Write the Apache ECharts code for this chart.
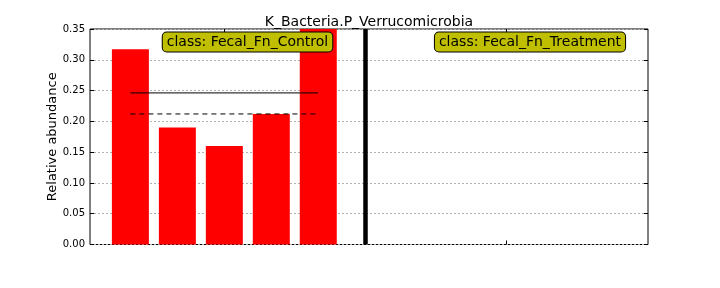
<!DOCTYPE html>
<html><head><meta charset="utf-8">
<script src="https://cdn.jsdelivr.net/npm/echarts@6/dist/echarts.min.js"></script>
<style>html,body{margin:0;padding:0;background:#fff}#c{width:720px;height:288px}</style>
</head><body><div id="c"></div>
<script>
const title = 'K_Bacteria.P_Verrucomicrobia';
const yLabel = 'Relative abundance';
const controlPositions = [0, 1, 2, 3, 4];
const controlValues = [0.317, 0.190, 0.160, 0.212, 0.352];
const separatorX = 5;
const classTickPositions = [2, 8];
const classLabels = ['class: Fecal_Fn_Control', 'class: Fecal_Fn_Treatment'];
const yTicks = [0, 0.05, 0.10, 0.15, 0.20, 0.25, 0.30, 0.35];

const mean = controlValues.reduce((a, b) => a + b, 0) / controlValues.length;
const sorted = controlValues.slice().sort((a, b) => a - b);
const median = sorted[Math.floor(sorted.length / 2)];
const first = controlPositions[0], last = controlPositions[controlPositions.length - 1];

const font = 'DejaVu Sans';
const chart = echarts.init(document.getElementById('c'), null, {renderer: 'canvas'});
const xCommon = {
  type: 'value', min: -0.86, max: 11.02,
  axisLine: {show: false, onZero: false},
  axisTick: {show: true, inside: true, length: 4, lineStyle: {color: '#000'}, customValues: classTickPositions},
  axisLabel: {show: false},
  splitLine: {show: false}
};
const yCommon = {
  type: 'value', min: 0, max: 0.35, interval: 0.05,
  axisLine: {show: false, onZero: false},
  axisTick: {show: true, inside: true, length: 4, lineStyle: {color: '#000'}},
};
chart.setOption({
  animation: false,
  title: {text: title, left: 364, top: 10, textAlign: 'center',
    textStyle: {fontFamily: font, fontSize: 14, fontWeight: 'normal', color: '#000'}},
  grid: {left: 90, right: 72, top: 29, bottom: 43.5, show: true, borderColor: '#000', borderWidth: 1, backgroundColor: 'transparent'},
  xAxis: [
    Object.assign({}, xCommon, {position: 'bottom'}),
    Object.assign({}, xCommon, {position: 'top'})
  ],
  yAxis: [
    Object.assign({}, yCommon, {position: 'left',
      name: yLabel, nameLocation: 'middle', nameGap: 31, nameRotate: 90, nameMoveOverlap: false,
      nameTextStyle: {fontFamily: font, fontSize: 13, color: '#000'},
      axisLabel: {fontFamily: font, fontSize: 10, color: '#000', margin: 5,
        formatter: v => v.toFixed(2)},
      splitLine: {show: true, lineStyle: {color: '#b0b0b0', type: [2, 2], width: 1}}}),
    Object.assign({}, yCommon, {position: 'right', axisLabel: {show: false}, splitLine: {show: false}})
  ],
  series: [
    {type: 'bar', xAxisIndex: 0, yAxisIndex: 0, barWidth: 37,
      data: controlPositions.map((x, i) => [x, controlValues[i]]),
      itemStyle: {color: '#ff0000'},
      markLine: {silent: true, symbol: 'none', label: {show: false},
        lineStyle: {color: '#000', width: 4.5, type: 'solid'},
        data: [{xAxis: separatorX}]}
    },
    {type: 'line', xAxisIndex: 0, yAxisIndex: 0, symbol: 'none',
      data: [[first, mean], [last, mean]], lineStyle: {color: '#000', width: 1}},
    {type: 'line', xAxisIndex: 0, yAxisIndex: 0, symbol: 'none',
      data: [[first, median], [last, median]], lineStyle: {color: '#000', width: 1, type: [5, 4]}}
  ]
});

const boxCenters = [247.5, 530];
chart.setOption({
  graphic: classLabels.map((t, i) => ({
    type: 'text', x: boxCenters[i], y: 42, z: 100,
    style: {text: t, fontFamily: font, fontSize: 14, fill: '#000',
      align: 'center', verticalAlign: 'middle',
      backgroundColor: '#bfbf00', borderColor: '#000', borderWidth: 1, borderRadius: 4,
      padding: [3, 4, 2, 4]}
  }))
});
</script></body></html>
